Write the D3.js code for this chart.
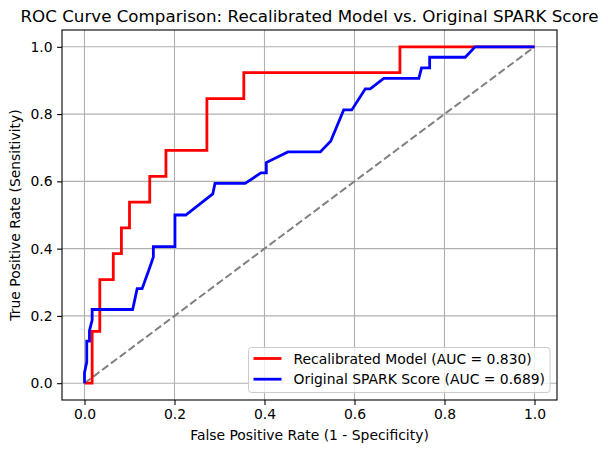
<!doctype html>
<html lang="en">
  <head>
    <meta charset="UTF-8">
    <title>ROC Curve Comparison</title>
    <style>
      body { margin: 0; background: #fff; }
      svg text { font-family: "DejaVu Sans", sans-serif; fill: #000; }
      .tick text { font-size: 13.9px; }
      .grid line { stroke: #b0b0b0; stroke-width: 1.1px; }
    </style>
  </head>
  <body>
    <svg width="608" height="453"></svg>
    <script src="https://d3js.org/d3.v7.min.js"></script>
    <script>

      // recalibrated model roc points
      var recalFpr = [0, 0.017, 0.017, 0.034, 0.034, 0.064, 0.064, 0.082, 0.082, 0.1, 0.1, 0.145, 0.145,
        0.181, 0.181, 0.272, 0.272, 0.354, 0.354, 0.701, 0.701, 1];
      var recalTpr = [0, 0, 0.154, 0.154, 0.308, 0.308, 0.385, 0.385, 0.462, 0.462, 0.538, 0.538, 0.615,
        0.615, 0.692, 0.692, 0.846, 0.846, 0.923, 0.923, 1, 1];

      // original spark score roc points
      var sparkFpr = [0, 0, 0.005, 0.005, 0.011, 0.011, 0.017, 0.017, 0.107, 0.117, 0.128, 0.145, 0.153,
        0.153, 0.201, 0.201, 0.225, 0.285, 0.29, 0.357, 0.392, 0.404, 0.404, 0.452, 0.524, 0.547, 0.576,
        0.594, 0.624, 0.635, 0.665, 0.743, 0.749, 0.767, 0.767, 0.846, 0.868, 1];
      var sparkTpr = [0, 0.031, 0.0625, 0.125, 0.125, 0.156, 0.1875, 0.219, 0.219, 0.281, 0.281, 0.344,
        0.375, 0.406, 0.406, 0.5, 0.5, 0.5625, 0.594, 0.594, 0.625, 0.625, 0.656, 0.6875, 0.6875, 0.719,
        0.8125, 0.8125, 0.875, 0.875, 0.906, 0.906, 0.9375, 0.9375, 0.969, 0.969, 1, 1];

      var tickValues = [0, 0.2, 0.4, 0.6, 0.8, 1.0];
      var seriesNames = ["Recalibrated Model (AUC = 0.830)", "Original SPARK Score (AUC = 0.689)"];
      var seriesColors = ["#ff0000", "#0000ff"];

      var svg = d3.select("svg"),
              margin = {left: 62, right: 51, top: 30, bottom: 53},
              width = 608 - margin.left - margin.right,
              height = 453 - margin.top - margin.bottom;

      var x = d3.scaleLinear().domain([-0.05, 1.05]).range([margin.left, margin.left + width]);
      var y = d3.scaleLinear().domain([-0.05, 1.05]).range([margin.top + height, margin.top]);

      // grid
      var grid = svg.append("g").attr("class", "grid");
      grid.selectAll(".gx").data(tickValues).enter().append("line")
              .attr("x1", function (d) { return x(d); }).attr("x2", function (d) { return x(d); })
              .attr("y1", margin.top).attr("y2", margin.top + height);
      grid.selectAll(".gy").data(tickValues).enter().append("line")
              .attr("y1", function (d) { return y(d); }).attr("y2", function (d) { return y(d); })
              .attr("x1", margin.left).attr("x2", margin.left + width);

      // diagonal
      svg.append("line")
              .attr("x1", x(0)).attr("y1", y(0)).attr("x2", x(1)).attr("y2", y(1))
              .attr("stroke", "#808080").attr("stroke-width", 2)
              .attr("stroke-dasharray", "7.7,3.3");

      var line = d3.line()
              .x(function (d) { return x(d[0]); })
              .y(function (d) { return y(d[1]); });

      var series = [d3.zip(recalFpr, recalTpr), d3.zip(sparkFpr, sparkTpr)];
      series.forEach(function (pts, i) {
        svg.append("path")
                .datum(pts)
                .attr("d", line)
                .attr("fill", "none")
                .attr("stroke", seriesColors[i])
                .attr("stroke-width", 2.8)
                .attr("stroke-linejoin", "miter");
      });

      // frame
      svg.append("rect")
              .attr("x", margin.left).attr("y", margin.top)
              .attr("width", width).attr("height", height)
              .attr("fill", "none").attr("stroke", "#000").attr("stroke-width", 1.1);

      var fmt = d3.format(".1f");
      var xAxis = svg.append("g")
              .attr("transform", "translate(0," + (margin.top + height) + ")")
              .call(d3.axisBottom(x).tickValues(tickValues).tickFormat(fmt).tickSize(4.9).tickPadding(4.5));
      var yAxis = svg.append("g")
              .attr("transform", "translate(" + margin.left + ",0)")
              .call(d3.axisLeft(y).tickValues(tickValues).tickFormat(fmt).tickSize(4.9).tickPadding(4.5));
      [xAxis, yAxis].forEach(function (a) {
        a.select(".domain").remove();
        a.selectAll(".tick line").attr("stroke", "#000").attr("stroke-width", 1.1);
        a.selectAll(".tick text").attr("font-family", "DejaVu Sans").attr("fill", "#000");
      });

      // labels
      svg.append("text")
              .attr("x", margin.left + width / 2).attr("y", 22)
              .attr("text-anchor", "middle").style("font-size", "16.7px")
              .text("ROC Curve Comparison: Recalibrated Model vs. Original SPARK Score");
      svg.append("text")
              .attr("x", margin.left + width / 2).attr("y", 440)
              .attr("text-anchor", "middle").style("font-size", "13.9px")
              .text("False Positive Rate (1 - Specificity)");
      svg.append("text")
              .attr("transform", "translate(20," + (margin.top + height / 2) + ") rotate(-90)")
              .attr("text-anchor", "middle").style("font-size", "13.9px")
              .text("True Positive Rate (Sensitivity)");

      // legend
      var lg = svg.append("g").attr("transform", "translate(248.5,347.5)");
      lg.append("rect")
              .attr("width", 301.5).attr("height", 45).attr("rx", 3)
              .attr("fill", "#fff").attr("fill-opacity", 0.8)
              .attr("stroke", "#cccccc").attr("stroke-width", 1);
      seriesNames.forEach(function (name, i) {
        var ly = 11 + i * 20.7;
        lg.append("line")
                .attr("x1", 5).attr("x2", 33).attr("y1", ly).attr("y2", ly)
                .attr("stroke", seriesColors[i]).attr("stroke-width", 2.8);
        lg.append("text")
                .attr("x", 45).attr("y", ly).attr("dy", "0.36em")
                .style("font-size", "13.9px")
                .text(name);
      });

    </script>
  </body>
</html>
